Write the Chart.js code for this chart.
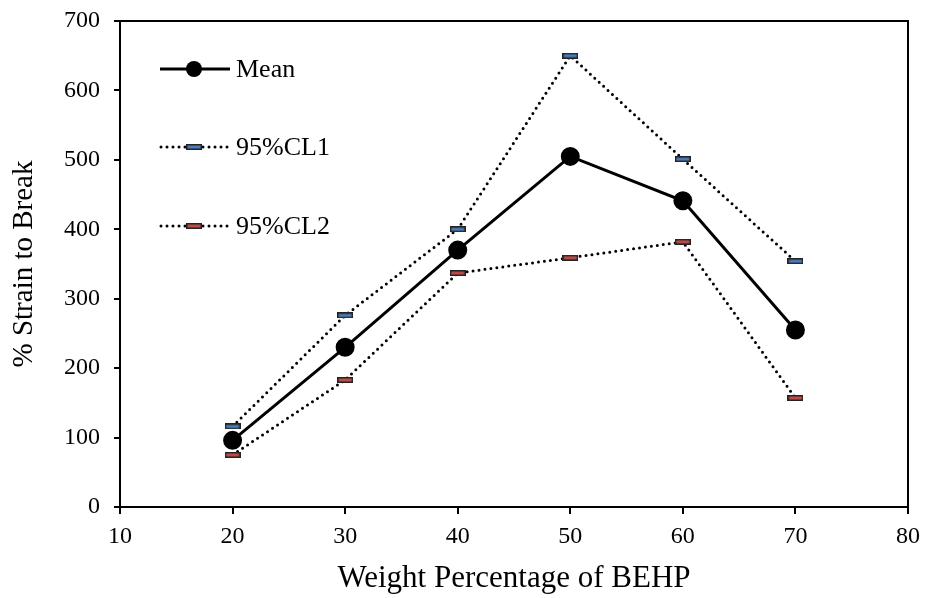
<!DOCTYPE html>
<html><head><meta charset="utf-8">
<script src="https://cdn.jsdelivr.net/npm/chart.js@4/dist/chart.umd.min.js"></script>
<style>html,body{margin:0;padding:0;background:#fff;}#wrap{width:930px;height:598px;}</style>
</head><body><div id="wrap"><canvas id="c" width="930" height="598"></canvas></div>
<script>
const xValues = [20, 30, 40, 50, 60, 70];
const meanValues = [96, 230, 370, 505, 441, 255];
const cl1Values = [116, 276, 400, 650, 501, 354];
const cl2Values = [75, 183, 337, 359, 382, 157];
const xTicks = [10, 20, 30, 40, 50, 60, 70, 80];
const yTicks = [0, 100, 200, 300, 400, 500, 600, 700];

function dashMarker(fill){
  const c = document.createElement('canvas');
  c.width = 16; c.height = 6;
  const g = c.getContext('2d');
  g.fillStyle = '#222'; g.fillRect(0,0,16,6);
  g.fillStyle = fill; g.fillRect(1.5,1.5,13,3);
  return c;
}
const m1 = dashMarker('#4a7ebb');
const m2 = dashMarker('#be4b48');

const pts = arr => xValues.map((x,i)=>({x:x,y:arr[i]}));
const serif = "'Liberation Serif','Times New Roman',serif";

const frame = {
  id:'frame',
  afterDatasetsDraw(chart){
    const {ctx, chartArea:a} = chart;
    ctx.save();
    ctx.strokeStyle='#000'; ctx.lineWidth=2;
    ctx.strokeRect(a.left, a.top, a.right-a.left, a.bottom-a.top);
    const items = [
      {y:69, ds:chart.data.datasets[0]},
      {y:147, ds:chart.data.datasets[1]},
      {y:226, ds:chart.data.datasets[2]}
    ];
    items.forEach((it,i)=>{
      const ds = it.ds;
      ctx.beginPath();
      ctx.lineWidth = ds.borderWidth;
      ctx.strokeStyle = ds.borderColor;
      ctx.lineCap = ds.borderCapStyle || 'butt';
      ctx.setLineDash(ds.borderDash || []);
      ctx.moveTo(i===0?160:161, it.y); ctx.lineTo(i===0?230:228, it.y); ctx.stroke();
      ctx.setLineDash([]);
      if(i===0){
        ctx.beginPath(); ctx.fillStyle='#000';
        ctx.arc(194, it.y, 8, 0, Math.PI*2); ctx.fill();
      } else {
        ctx.drawImage(ds.pointStyle, 194-8, it.y-3);
      }
      ctx.fillStyle='#000'; ctx.font = "26px "+serif;
      ctx.textAlign='left'; ctx.textBaseline='middle';
      ctx.fillText(ds.label, 236, it.y+1);
    });
    ctx.restore();
  }
};

new Chart(document.getElementById('c'), {
  type:'scatter',
  data:{datasets:[
    {label:'Mean', data:pts(meanValues), showLine:true, borderColor:'#000', backgroundColor:'#000', borderWidth:3, pointRadius:8, pointHoverRadius:8, pointStyle:'circle', order:0},
    {label:'95%CL1', data:pts(cl1Values), showLine:true, borderColor:'#000', borderWidth:3, borderDash:[0,6], borderCapStyle:'round', pointStyle:m1, order:1},
    {label:'95%CL2', data:pts(cl2Values), showLine:true, borderColor:'#000', borderWidth:3, borderDash:[0,6], borderCapStyle:'round', pointStyle:m2, order:2}
  ]},
  options:{
    responsive:false, animation:false, devicePixelRatio:1,
    layout:{padding:{left:0, top:21, right:22, bottom:0}},
    plugins:{legend:{display:false}, tooltip:{enabled:false}},
    scales:{
      x:{type:'linear', min:10, max:80,
        afterBuildTicks: s => { s.ticks = xTicks.map(v=>({value:v})); },
        afterFit: s => { s.height = 91; s.paddingLeft = 0; s.paddingRight = 0; },
        ticks:{color:'#000', font:{family:serif, size:24}, padding:8, maxRotation:0},
        grid:{drawOnChartArea:false, color:'#000', tickLength:7, lineWidth:2},
        border:{color:'#000', width:2},
        title:{display:true, text:'Weight Percentage of BEHP', color:'#000', font:{family:serif, size:31}, padding:{top:0, bottom:1}}
      },
      y:{type:'linear', min:0, max:700,
        afterBuildTicks: s => { s.ticks = yTicks.map(v=>({value:v})); },
        afterFit: s => { s.width = 120; s.paddingTop = 0; s.paddingBottom = 0; },
        ticks:{color:'#000', font:{family:serif, size:24}, padding:14},
        grid:{drawOnChartArea:false, color:'#000', tickLength:6, lineWidth:2},
        border:{color:'#000', width:2},
        title:{display:true, text:'% Strain to Break', color:'#000', font:{family:serif, size:29}, padding:{top:7, bottom:0}}
      }
    }
  },
  plugins:[frame]
});
</script></body></html>
